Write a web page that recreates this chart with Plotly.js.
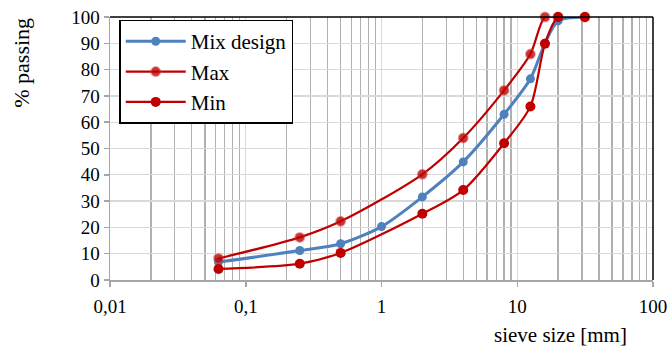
<!DOCTYPE html>
<html>
<head>
<meta charset="utf-8">
<script src="https://cdn.plot.ly/plotly-3.0.1.min.js"></script>
<style>html,body{margin:0;padding:0;background:#fff;}#chart{width:669px;height:351px;}</style>
</head>
<body>
<div id="chart"></div>
<script>
// Data
const mixSizes = [0.063, 0.25, 0.5, 1, 2, 4, 8, 12.5, 16, 20, 31.5];
const mixPassing = [6.8, 11.2, 13.8, 20.3, 31.6, 44.9, 63.0, 76.5, 90, 98.5, 100];
const maxSizes = [0.063, 0.25, 0.5, 2, 4, 8, 12.5, 16, 20, 31.5];
const maxPassing = [8.2, 16.2, 22.3, 40.2, 54.0, 72.1, 85.9, 100, 100, 100];
const minSizes = [0.063, 0.25, 0.5, 2, 4, 8, 12.5, 16, 20, 31.5];
const minPassing = [4.2, 6.2, 10.3, 25.2, 34.2, 52.0, 66.0, 89.8, 100, 100];
const xTickVals = [0.01, 0.1, 1, 10, 100];
const xTickText = ['0,01', '0,1', '1', '10', '100'];
const seriesNames = ['Mix design', 'Max', 'Min'];

const FONT = 'Liberation Serif';
const RED = '#C00000';
const BLUE = '#4F81BD';

const traces = [
  {
    x: mixSizes, y: mixPassing, name: seriesNames[0], type: 'scatter', mode: 'lines+markers',
    line: {color: BLUE, width: 3, shape: 'spline', smoothing: 0.8},
    marker: {color: BLUE, size: 9}, cliponaxis: false
  },
  {
    x: maxSizes, y: maxPassing, name: seriesNames[1], type: 'scatter', mode: 'lines+markers',
    line: {color: RED, width: 2.2, shape: 'spline', smoothing: 0.8},
    marker: {color: 'rgba(192,0,0,0.8)', size: 9, line: {color: 'rgba(200,60,60,0.45)', width: 2}}, cliponaxis: false
  },
  {
    x: minSizes, y: minPassing, name: seriesNames[2], type: 'scatter', mode: 'lines+markers',
    line: {color: RED, width: 2.2, shape: 'spline', smoothing: 0.8},
    marker: {color: RED, size: 10}, cliponaxis: false
  }
];

const layout = {
  width: 669, height: 351,
  margin: {l: 110, r: 16, t: 17, b: 71},
  paper_bgcolor: '#fff', plot_bgcolor: '#fff',
  font: {family: FONT, size: 19, color: '#000'},
  showlegend: true,
  legend: {
    x: 0.017, y: 0.99, xanchor: 'left', yanchor: 'top',
    bgcolor: '#fff', bordercolor: '#000', borderwidth: 1.5,
    font: {family: FONT, size: 21, color: '#000'},
    itemwidth: 60, tracegroupgap: 0
  },
  xaxis: {
    type: 'log', range: [-2, 2],
    tickmode: 'array', tickvals: xTickVals, ticktext: xTickText,
    ticks: 'outside', ticklen: 5, tickcolor: '#a6a6a6', tickwidth: 1.5,
    ticklabelstandoff: 4,
    showline: true, linecolor: '#a6a6a6', linewidth: 1.5,
    showgrid: true, gridcolor: '#d9d9d9', gridwidth: 1.3,
    minor: {showgrid: true, gridcolor: '#b0b0b0', gridwidth: 1.3, dtick: 'D1'},
    tickfont: {family: FONT, size: 19, color: '#000'},
    zeroline: false, fixedrange: true
  },
  yaxis: {
    range: [0, 100], dtick: 10, tick0: 0,
    ticks: 'outside', ticklen: 5, tickcolor: '#a6a6a6', tickwidth: 1.5,
    showline: true, linecolor: '#a6a6a6', linewidth: 1.5,
    showgrid: true, gridcolor: '#d9d9d9', gridwidth: 1.3,
    tickfont: {family: FONT, size: 19, color: '#000'},
    zeroline: false, fixedrange: true
  },
  shapes: [
    {type: 'line', xref: 'paper', yref: 'paper', x0: 0, x1: 1, y0: 1, y1: 1, line: {color: '#000', width: 1.5}},
    {type: 'line', xref: 'paper', yref: 'paper', x0: 1, x1: 1, y0: 0, y1: 1, line: {color: '#000', width: 1.5}}
  ],
  annotations: [
    {text: '% passing', xref: 'paper', yref: 'paper', x: -0.162, y: 1.005, xanchor: 'center', yanchor: 'top',
     textangle: -90, showarrow: false, font: {family: FONT, size: 22, color: '#000'}},
    {text: 'sieve size [mm]', xref: 'paper', yref: 'paper', x: 0.829, y: -0.155, xanchor: 'center', yanchor: 'top',
     showarrow: false, font: {family: FONT, size: 21, color: '#000'}}
  ]
};

Plotly.newPlot('chart', traces, layout, {displayModeBar: false, staticPlot: true});
</script>
</body>
</html>
